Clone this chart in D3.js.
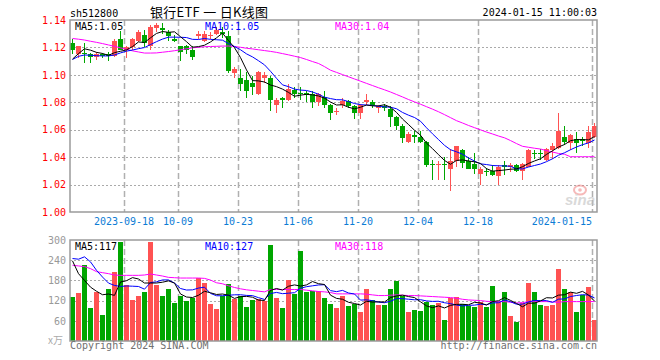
<!DOCTYPE html>
<html><head><meta charset="utf-8">
<script src="https://cdn.jsdelivr.net/npm/d3@7"></script>
<style>body{margin:0;background:#fff}svg{display:block}</style>
</head><body><svg id="c" width="660" height="360"></svg>
<script>
const dates = ["2023-09-05","2023-09-06","2023-09-07","2023-09-08","2023-09-11","2023-09-12","2023-09-13","2023-09-14","2023-09-15","2023-09-18","2023-09-19","2023-09-20","2023-09-21","2023-09-22","2023-09-25","2023-09-26","2023-09-27","2023-09-28",
"2023-10-09","2023-10-10","2023-10-11","2023-10-12","2023-10-13","2023-10-16","2023-10-17","2023-10-18","2023-10-19","2023-10-20","2023-10-23","2023-10-24","2023-10-25","2023-10-26","2023-10-27","2023-10-30","2023-10-31",
"2023-11-01","2023-11-02","2023-11-03","2023-11-06","2023-11-07","2023-11-08","2023-11-09","2023-11-10","2023-11-13","2023-11-14","2023-11-15","2023-11-16","2023-11-17","2023-11-20","2023-11-21","2023-11-22","2023-11-23","2023-11-24","2023-11-27","2023-11-28","2023-11-29","2023-11-30",
"2023-12-01","2023-12-04","2023-12-05","2023-12-06","2023-12-07","2023-12-08","2023-12-11","2023-12-12","2023-12-13","2023-12-14","2023-12-15","2023-12-18","2023-12-19","2023-12-20","2023-12-21","2023-12-22","2023-12-25","2023-12-26","2023-12-27","2023-12-28","2023-12-29",
"2024-01-02","2024-01-03","2024-01-04","2024-01-05","2024-01-08","2024-01-09","2024-01-10","2024-01-11","2024-01-12","2024-01-15"];

const open = [1.123,1.115,1.116,1.115,1.113,1.115,1.115,1.114,1.126,1.118,1.120,1.125,1.129,1.121,1.134,1.134,1.131,1.126,
1.121,1.121,1.118,1.128,1.125,1.128,1.130,1.131,1.128,1.101,1.098,1.096,1.094,1.086,1.098,1.098,1.078,
1.083,1.082,1.089,1.087,1.087,1.086,1.080,1.084,1.078,1.073,1.078,1.081,1.077,1.072,1.080,1.080,1.076,1.077,1.075,1.069,1.063,1.051,
1.056,1.055,1.051,1.035,1.034,1.035,1.031,1.037,1.045,1.037,1.035,1.028,1.030,1.030,1.026,1.034,1.033,1.034,1.030,1.033,
1.043,1.043,1.038,1.045,1.047,1.055,1.050,1.053,1.053,1.050,1.055];
const high = [1.126,1.121,1.123,1.116,1.117,1.116,1.117,1.126,1.132,1.121,1.127,1.133,1.133,1.136,1.138,1.138,1.133,1.129,
1.121,1.122,1.121,1.132,1.132,1.131,1.135,1.135,1.132,1.106,1.104,1.102,1.099,1.103,1.102,1.099,1.083,
1.084,1.093,1.091,1.091,1.088,1.088,1.087,1.088,1.079,1.076,1.083,1.082,1.078,1.079,1.086,1.082,1.078,1.079,1.077,1.070,1.064,1.058,
1.059,1.059,1.052,1.038,1.037,1.040,1.046,1.048,1.046,1.040,1.043,1.033,1.032,1.034,1.034,1.037,1.036,1.035,1.036,1.046,
1.045,1.046,1.047,1.050,1.072,1.063,1.057,1.058,1.055,1.063,1.065];
const low = [1.115,1.112,1.109,1.109,1.111,1.112,1.110,1.113,1.118,1.112,1.118,1.124,1.120,1.118,1.131,1.130,1.125,1.124,
1.110,1.115,1.111,1.126,1.124,1.126,1.129,1.127,1.101,1.098,1.088,1.083,1.085,1.085,1.094,1.074,1.072,
1.076,1.081,1.083,1.082,1.080,1.076,1.077,1.076,1.067,1.071,1.076,1.076,1.068,1.068,1.078,1.076,1.072,1.074,1.062,1.060,1.050,1.050,
1.050,1.050,1.033,1.023,1.023,1.023,1.015,1.033,1.032,1.031,1.028,1.020,1.026,1.026,1.020,1.027,1.029,1.029,1.023,1.033,
1.039,1.038,1.037,1.039,1.046,1.049,1.045,1.043,1.048,1.047,1.054];
const close = [1.118,1.121,1.115,1.113,1.115,1.114,1.114,1.125,1.118,1.120,1.126,1.131,1.123,1.135,1.136,1.133,1.128,1.125,
1.117,1.118,1.113,1.130,1.130,1.129,1.133,1.130,1.103,1.104,1.093,1.088,1.091,1.102,1.100,1.082,1.082,
1.082,1.090,1.086,1.086,1.085,1.080,1.086,1.078,1.072,1.074,1.081,1.077,1.072,1.078,1.082,1.078,1.077,1.076,1.069,1.063,1.054,1.057,
1.055,1.051,1.034,1.034,1.035,1.034,1.037,1.048,1.036,1.031,1.031,1.031,1.029,1.027,1.033,1.033,1.034,1.030,1.035,1.045,
1.042,1.042,1.046,1.048,1.059,1.051,1.056,1.050,1.052,1.058,1.063];

const ma5 = [1.1115,1.1155,1.1190,1.1180,1.1164,1.1156,1.1142,1.1162,1.1172,1.1182,1.1206,1.1240,1.1236,1.1270,1.1302,1.1316,1.1310,1.1314,
1.1278,1.1242,1.1202,1.1206,1.1216,1.1240,1.1270,1.1304,1.1250,1.1198,1.1126,1.1036,1.0958,1.0956,1.0948,1.0926,1.0914,
1.0896,1.0872,1.0844,1.0852,1.0858,1.0854,1.0846,1.0830,1.0802,1.0780,1.0782,1.0764,1.0752,1.0764,1.0780,1.0774,1.0774,1.0782,1.0764,1.0726,1.0678,1.0638,
1.0596,1.0560,1.0502,1.0462,1.0418,1.0376,1.0348,1.0376,1.0380,1.0372,1.0366,1.0354,1.0316,1.0298,1.0302,1.0306,1.0312,1.0314,1.0330,1.0354,
1.0372,1.0388,1.0420,1.0446,1.0474,1.0492,1.0520,1.0528,1.0528,1.0526,1.0550];
const ma10 = [1.1112,1.1135,1.1145,1.1143,1.1140,1.1138,1.1138,1.1145,1.1160,1.1173,1.1181,1.1191,1.1199,1.1221,1.1242,1.1261,1.1275,1.1275,
1.1274,1.1272,1.1259,1.1258,1.1265,1.1259,1.1256,1.1253,1.1228,1.1207,1.1183,1.1153,1.1131,1.1103,1.1073,1.1026,1.0975,
1.0927,1.0914,1.0896,1.0889,1.0886,1.0875,1.0859,1.0837,1.0827,1.0819,1.0818,1.0805,1.0791,1.0783,1.0780,1.0778,1.0769,1.0767,1.0764,1.0753,1.0726,1.0706,
1.0689,1.0662,1.0614,1.0570,1.0528,1.0486,1.0454,1.0439,1.0421,1.0395,1.0371,1.0351,1.0346,1.0339,1.0337,1.0336,1.0333,1.0315,1.0314,1.0328,
1.0339,1.0350,1.0367,1.0388,1.0414,1.0432,1.0454,1.0474,1.0491,1.0504,1.0525];
const ma30 = [1.1265,1.1260,1.1254,1.1245,1.1237,1.1228,1.1218,1.1208,1.1197,1.1186,1.1175,1.1167,1.1159,1.1159,1.1160,1.1165,1.1170,1.1176,
1.1183,1.1190,1.1197,1.1201,1.1205,1.1207,1.1208,1.1210,1.1210,1.1207,1.1201,1.1194,1.1189,1.1183,1.1177,1.1171,1.1164,
1.1155,1.1146,1.1136,1.1126,1.1112,1.1097,1.1083,1.1060,1.1034,1.1018,1.1002,1.0986,1.0970,1.0954,1.0938,1.0922,1.0906,1.0891,1.0875,1.0857,1.0839,1.0820,
1.0803,1.0786,1.0768,1.0750,1.0731,1.0710,1.0688,1.0666,1.0649,1.0631,1.0615,1.0599,1.0583,1.0569,1.0554,1.0541,1.0521,1.0499,1.0479,1.0472,
1.0465,1.0459,1.0448,1.0437,1.0427,1.0421,1.0403,1.0403,1.0403,1.0403,1.0403];

const volume = [130,142,225,97,145,78,153,205,295,165,123,133,145,295,165,135,153,112,
133,120,128,186,172,110,95,135,168,125,135,100,122,125,120,285,128,
98,182,140,268,145,148,150,128,110,97,135,105,110,87,153,123,108,108,153,177,135,87,
93,90,117,108,113,63,128,132,110,105,100,117,102,162,117,147,75,57,112,171,
147,108,105,108,213,153,147,87,137,159,63];
const vma5 = [238,200,180,160,147.8,137.4,139.6,135.6,175.2,179.2,188.2,184.2,172.2,172.2,172.2,174.6,178.6,172,
139.6,130.6,129.2,135.8,147.8,143.2,138.2,139.6,136,126.6,131.6,132.6,130,121.4,120.4,150.4,156,
151.2,162.6,166.6,163.2,166.6,176.6,170.2,167.8,136.2,126.6,124,115,111.4,106.8,118,115.6,116.2,115.8,129,133.8,136.2,132,
129,116.4,104.4,99,104.2,98.2,105.8,108.8,109.2,107.6,115,112.8,106.8,117.2,119.6,129,120.6,111.6,101.6,112.4,
112.4,119,128.6,127.8,136.2,137.4,145.2,141.6,147.4,136.6,118.6];
const vma10 = [245,243,250,235,210,190,172,165,162,163.5,162.8,161.9,153.9,173.7,175.7,181.4,181.4,172.1,
155.9,151.4,151.9,157.2,159.9,141.4,134.4,134.4,135.9,137.2,137.4,135.4,134.8,128.7,123.5,141,144.3,
140.6,142,143.5,156.8,161.3,163.9,166.4,167.2,149.7,146.6,150.3,142.6,139.6,121.5,122.3,119.8,115.6,113.6,117.9,125.9,125.9,124.1,
122.4,122.7,119.1,117.6,118.1,113.6,111.1,106.6,104.1,105.9,106.6,109.3,107.8,113.2,113.6,122,116.7,109.2,109.4,116,
120.7,119.8,120.1,114.7,124.3,124.9,132.1,135.1,137.6,136.4,128];
const vma30 = [225,223,221,215,206,203,200,196,195,195,195,195,196,199,196,193,189,188,
187,187,187,187,186,181,173,170,164,159,155,152,150,148,146,153,153,
153,153,153,153,151,149,147,146,144,140,140,140,140,140,139,137,135,135,136,137,136,135,
135,134,133,132,131,130,129,127,124,122,121,120,118,117,117,117,115,113,114,117,
117,117,117,116,115,117,117,117,117,117,117];

const priceTicks = [1.00,1.02,1.04,1.06,1.08,1.10,1.12,1.14];
const volTicks = [60,120,180,240,300];
const gridDates = ["2023-09-18","2023-10-09","2023-10-23","2023-11-06","2023-11-20","2023-12-04","2023-12-18","2024-01-15"];
const gridLabels = ["2023-09-18","10-09","10-23","11-06","11-20","12-04","12-18","2024-01-15"];

const RED = "#ff5252", GREEN = "#00a600";
const mono = '"DejaVu Sans Mono","Liberation Mono",monospace';
const svg = d3.select("#c");

const x = d3.scaleBand().domain(dates).range([70, 598]).padding(0);
const bw = x.bandwidth() - 1;
const cx = d => x(d) + bw / 2;
const yP = d3.scaleLinear().domain([1.00, 1.14]).range([212, 20]);
const yV = d3.scaleLinear().domain([0, 300]).range([341, 240]);
const L = 70, R = 597;

// horizontal dotted grid
svg.append("g").selectAll("line").data(priceTicks.slice(1, -1)).join("line")
  .attr("x1", L).attr("x2", R).attr("y1", d => Math.round(yP(d)) + 0.5).attr("y2", d => Math.round(yP(d)) + 0.5)
  .attr("stroke", "#aaa").attr("stroke-dasharray", "2,2");
svg.append("g").selectAll("line").data(volTicks.slice(0, -1)).join("line")
  .attr("x1", L).attr("x2", R).attr("y1", d => Math.round(yV(d)) + 0.5).attr("y2", d => Math.round(yV(d)) + 0.5)
  .attr("stroke", "#aaa").attr("stroke-dasharray", "2,2");
// vertical dashed grid
const vg = svg.append("g").attr("stroke", "#b0b0b0").attr("stroke-width", 1.5).attr("stroke-dasharray", "6,3");
vg.selectAll(".a").data(gridDates).join("line").attr("x1", d => x(d) + 0.5).attr("x2", d => x(d) + 0.5).attr("y1", 20).attr("y2", 212);
vg.selectAll(".b").data(gridDates).join("line").attr("x1", d => x(d) + 0.5).attr("x2", d => x(d) + 0.5).attr("y1", 240).attr("y2", 341);

// candles
const idx = d3.range(dates.length);
const col = i => close[i] >= open[i] ? RED : GREEN;
const cg = svg.append("g").attr("shape-rendering", "crispEdges");
cg.selectAll("line").data(idx).join("line")
  .attr("x1", i => Math.floor(cx(dates[i])) + 0.5).attr("x2", i => Math.floor(cx(dates[i])) + 0.5)
  .attr("y1", i => yP(high[i])).attr("y2", i => yP(low[i])).attr("stroke", col);
cg.selectAll("rect").data(idx).join("rect")
  .attr("x", i => x(dates[i])).attr("width", bw)
  .attr("y", i => yP(Math.max(open[i], close[i])))
  .attr("height", i => Math.max(1, Math.abs(yP(open[i]) - yP(close[i]))))
  .attr("fill", col);

// volume bars
svg.append("g").attr("shape-rendering", "crispEdges").selectAll("rect").data(idx).join("rect")
  .attr("x", i => x(dates[i])).attr("width", bw)
  .attr("y", i => yV(volume[i])).attr("height", i => yV(0) - yV(volume[i]))
  .attr("fill", col);

// MA lines
function drawLine(arr, ys, color) {
  const ln = d3.line().x((d, i) => cx(dates[i])).y(d => ys(d));
  svg.append("path").datum(arr).attr("d", ln).attr("fill", "none").attr("stroke", color).attr("stroke-width", 1);
}
drawLine(ma30, yP, "#ff00ff");
drawLine(ma10, yP, "#0000ff");
drawLine(ma5, yP, "#000");
drawLine(vma30, yV, "#ff00ff");
drawLine(vma10, yV, "#0000ff");
drawLine(vma5, yV, "#000");

// borders
const bd = svg.append("g").attr("fill", "none").attr("stroke", "#9a9a9a").attr("stroke-width", 1.5);
bd.append("rect").attr("x", L).attr("y", 20).attr("width", R - L).attr("height", 192);
bd.append("rect").attr("x", L).attr("y", 240).attr("width", R - L).attr("height", 101);

// axes
const axP = svg.append("g").attr("transform", "translate(66,0)")
  .call(d3.axisLeft(yP).tickValues(priceTicks).tickSize(0).tickPadding(0).tickFormat(d3.format(".2f")));
axP.select(".domain").remove();
axP.attr("font-family", mono).attr("font-size", 10);
axP.selectAll("text").attr("fill", "#ff0000");

const axV = svg.append("g").attr("transform", "translate(66,0)")
  .call(d3.axisLeft(yV).tickValues(volTicks).tickSize(0).tickPadding(0));
axV.select(".domain").remove();
axV.attr("font-family", mono).attr("font-size", 10);
axV.selectAll("text").attr("fill", "#999");

const axX = svg.append("g").attr("transform", `translate(${-x.bandwidth() / 2},212)`)
  .call(d3.axisBottom(x).tickValues(gridDates).tickSize(0).tickPadding(6)
    .tickFormat(d => gridLabels[gridDates.indexOf(d)]));
axX.select(".domain").remove();
axX.attr("font-family", mono).attr("font-size", 10);
axX.selectAll("text").attr("fill", "#0c7cd5")
  .attr("text-anchor", (d, i) => i === gridDates.length - 1 ? "end" : "middle");

// texts
const T = (tx, ty, s, fill, opt = {}) => svg.append("text").attr("x", tx).attr("y", ty).text(s)
  .attr("fill", fill).attr("font-family", opt.ff || mono).attr("font-size", opt.fs || 10)
  .attr("text-anchor", opt.anchor || "start");
T(70, 17, "sh512800", "#000");
T(150, 17, "银行ETF 一 日K线图", "#000", { ff: '"Noto Sans CJK SC",sans-serif', fs: 13 }).attr("textLength", 118);
T(597, 16, "2024-01-15 11:00:03", "#000", { anchor: "end" });
T(75, 30, "MA5:1.05", "#000");
T(205, 30, "MA10:1.05", "#0000ff");
T(335, 30, "MA30:1.04", "#ff00ff");
T(75, 250, "MA5:117", "#000");
T(205, 250, "MA10:127", "#0000ff");
T(335, 250, "MA30:118", "#ff00ff");
T(63, 344, "x万", "#aaa", { anchor: "end", ff: '"Noto Sans CJK SC",sans-serif' });
T(70, 349, "Copyright 2024 SINA.COM", "#707070");
T(597, 349, "http://finance.sina.com.cn", "#707070", { anchor: "end" });

// sina watermark
const wm = svg.append("g").attr("opacity", 0.55);
wm.append("ellipse").attr("cx", 580).attr("cy", 190).attr("rx", 6).attr("ry", 4.5).attr("fill", "none").attr("stroke", "#f08080").attr("stroke-width", 2);
wm.append("circle").attr("cx", 580).attr("cy", 190).attr("r", 1.8).attr("fill", "#f08080");
wm.append("text").attr("x", 565).attr("y", 205).text("sina").attr("font-family", '"Liberation Sans",sans-serif')
  .attr("font-weight", "bold").attr("font-style", "italic").attr("font-size", 15).attr("fill", "#bbb");
</script></body></html>
